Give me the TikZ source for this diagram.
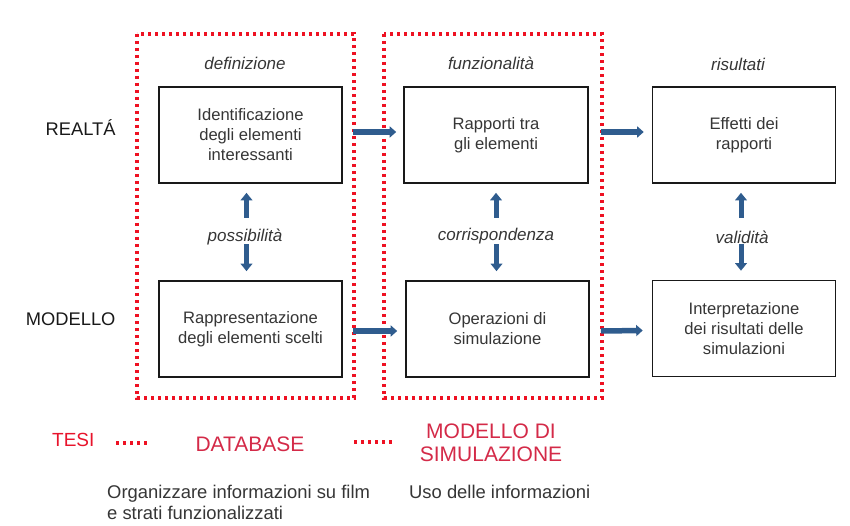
\documentclass[tikz,border=0pt]{standalone}
\usepackage{fontspec}
\setmainfont{Liberation Sans}
\usetikzlibrary{arrows.meta}
\definecolor{dotred}{HTML}{EE1122}
\definecolor{tesired}{HTML}{E8142C}
\definecolor{legred}{HTML}{D42A48}
\definecolor{arrblue}{HTML}{2F5C8E}
\definecolor{boxtext}{HTML}{363636}
\tikzset{
  dotbox/.style={draw=dotred, line width=3.4pt, dash pattern=on 3.4pt off 3.6pt},
  stagebox/.style={draw=black!90, line width=1.6pt, minimum width=183pt, minimum height=96pt, align=center, inner sep=0pt, text=boxtext, font=\fontsize{16.6}{20}\selectfont},
  harrow/.style={draw=arrblue, line width=5.5pt, -{Triangle[length=6.5pt,width=11pt]}},
  varrow/.style={draw=arrblue, line width=5pt, -{Triangle[length=7.5pt,width=11.5pt]}},
  ital/.style={font=\fontsize{17}{20}\selectfont\itshape, text=boxtext},
  rowlbl/.style={font=\fontsize{18.3}{20}\selectfont, text=black!90, anchor=east},
  legred/.style={font=\fontsize{21}{23.5}\selectfont, text=legred, align=center},
  legtext/.style={font=\fontsize{18.4}{20.5}\selectfont, text=boxtext, align=left}
}
\begin{document}
\begin{tikzpicture}[x=1pt,y=-1pt]
\useasboundingbox[fill=white] (0,0) rectangle (850,526);
% dotted groups
\draw[dotbox] (137,34) rectangle (354,398);
\draw[dotbox] (384,34) rectangle (602,398);
% headers
\node[ital] (hdef) at (245,63) {definizione};
\node[ital] (hfun) at (491,63) {funzionalità};
\node[ital] (hris) at (738,64) {risultati};
% row labels
\node[rowlbl] (realta) at (119,128) {REALTÁ};
\node[rowlbl] (modello) at (119,319) {MODELLO};
% boxes
\node[stagebox] (b1) at (250.5,135) {Identificazione\\degli elementi\\interessanti};
\node[stagebox, minimum width=184pt] (b2) at (496,135) {Rapporti tra\\gli elementi};
\node[stagebox] (b3) at (744,135) {Effetti dei\\rapporti};
\node[stagebox] (b4) at (250.5,329) {Rappresentazione\\degli elementi scelti};
\node[stagebox] (b5) at (497.5,329) {Operazioni di\\simulazione};
\node[stagebox] (b6) at (744,328.5) {Interpretazione\\dei risultati delle\\simulazioni};
% middle labels
\node[ital] (lpos) at (245,237) {possibilità};
\node[ital] (lcor) at (496,236) {corrispondenza};
\node[ital] (lval) at (742,237) {validità};
% horizontal arrows
\draw[harrow] ([xshift=10pt,yshift=3pt]b1.east) -- ([xshift=-7pt,yshift=3pt]b2.west);
\draw[harrow] ([xshift=12pt,yshift=3pt]b2.east) -- ([xshift=-8pt,yshift=3pt]b3.west);
\draw[harrow] ([xshift=10pt,yshift=-2pt]b4.east) -- ([xshift=-8pt,yshift=-2pt]b5.west);
\draw[harrow] ([xshift=11pt,yshift=-2pt]b5.east) -- ([xshift=-9pt,yshift=-2pt]b6.west);
% vertical arrows
\draw[varrow] ([xshift=-4pt,yshift=-34pt]b1.south) -- ([xshift=-4pt,yshift=-9pt]b1.south);
\draw[varrow] ([xshift=-4pt,yshift=36pt]b4.north) -- ([xshift=-4pt,yshift=9pt]b4.north);
\draw[varrow] ([yshift=-34pt]b2.south) -- ([yshift=-9pt]b2.south);
\draw[varrow] ([xshift=-1pt,yshift=36pt]b5.north) -- ([xshift=-1pt,yshift=9pt]b5.north);
\draw[varrow] ([xshift=-3pt,yshift=-34pt]b3.south) -- ([xshift=-3pt,yshift=-9pt]b3.south);
\draw[varrow] ([xshift=-3pt,yshift=36pt]b6.north) -- ([xshift=-3pt,yshift=9pt]b6.north);
% legend
\node[font=\fontsize{19}{22}\selectfont, text=tesired, anchor=west, inner sep=0pt] (tesi) at (52,440) {TESI};
\coordinate (d1a) at (116,443);
\coordinate (d1b) at (149,443);
\draw[dotbox] (d1a) -- (d1b);
\node[legred] (db) at (250,444) {DATABASE};
\coordinate (d2a) at (354,442);
\coordinate (d2b) at (394,442);
\draw[dotbox] (d2a) -- (d2b);
\node[legred] (ms) at (491,443) {MODELLO DI\\SIMULAZIONE};
\node[legtext, anchor=north west, inner sep=0pt] (org) at (107,485) {Organizzare informazioni su film\\e strati funzionalizzati};
\node[legtext, anchor=west, inner sep=0pt] (uso) at (409,492) {Uso delle informazioni};
\end{tikzpicture}
\end{document}
